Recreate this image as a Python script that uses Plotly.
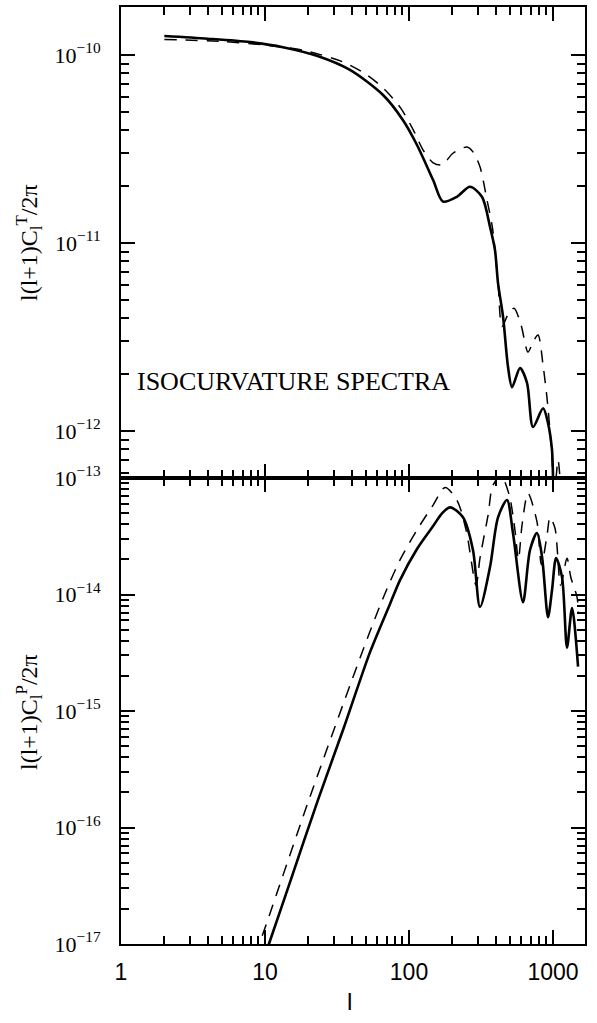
import plotly.graph_objects as go

# ---------------- data ----------------
# Top panel: l(l+1)C_l^T/2pi
l_T_solid = [2, 4, 7.9, 13.3, 22.9, 38.9, 66, 90.6, 113.6, 147, 172, 215, 265, 321, 365, 395,
             415, 450, 487, 519, 590, 660, 726, 853, 923, 984, 1000, 1030]
C_T_solid = [1.26e-10, 1.22e-10, 1.17e-10, 1.10e-10, 9.9e-11, 8.32e-11, 6.12e-11, 4.51e-11, 3.32e-11,
             2.16e-11, 1.66e-11, 1.76e-11, 1.99e-11, 1.76e-11, 1.22e-11, 9.2e-12,
             6.12e-12, 4.04e-12, 2.19e-12, 1.71e-12, 2.16e-12, 1.80e-12, 1.05e-12, 1.32e-12,
             1.10e-12, 7.9e-13, 5.7e-13, 3.0e-13]

l_T_dash = [2, 5, 10, 13.3, 18.4, 34.8, 51, 66, 86.6, 107, 125, 147, 169, 202, 253, 278, 311, 348,
            380, 415, 442, 490, 536, 600, 670, 730, 787, 853, 908, 953, 1000, 1030, 1083, 1130]
C_T_dash = [1.21e-10, 1.18e-10, 1.13e-10, 1.10e-10, 1.06e-10, 9.18e-11, 7.83e-11, 6.67e-11, 5.28e-11,
            4.0e-11, 3.13e-11, 2.67e-11, 2.6e-11, 3.0e-11, 3.24e-11, 3.05e-11, 2.54e-11, 1.69e-11,
            1.2e-11, 6.2e-12, 3.6e-12, 4.2e-12, 4.5e-12, 3.66e-12, 2.63e-12, 3.0e-12, 3.24e-12,
            2.23e-12, 1.5e-12, 1.0e-12, 6.0e-13, 5.0e-13, 7.0e-13, 5.0e-13]

# Bottom panel: l(l+1)C_l^P/2pi
l_P_solid = [10, 10.7, 15, 23.3, 35, 53.6, 73.8, 86.6, 113.6, 147, 170, 193, 237, 278, 311, 365, 415,
             479, 527, 619, 692, 774, 839, 923, 984, 1050, 1155, 1250, 1355, 1492]
C_P_solid = [8.1e-18, 1.02e-17, 3.47e-17, 1.72e-16, 7.0e-16, 3.2e-15, 8.3e-15, 1.33e-14, 2.46e-14,
             3.87e-14, 5.0e-14, 5.6e-14, 4.6e-14, 2.41e-14, 7.8e-15, 1.72e-14, 4.6e-14, 6.47e-14,
             3.37e-14, 8.6e-15, 2.41e-14, 3.37e-14, 2.1e-14, 6.4e-15, 1.09e-14, 2.06e-14,
             1.41e-14, 3.5e-15, 7.66e-15, 2.4e-15]

l_P_dash = [8.5, 9.5, 20.5, 47.9, 66, 86.6, 113.6, 147, 178, 215, 250, 292, 311, 354, 383, 442, 464,
            503, 545, 575, 610, 670, 774, 830, 908, 953, 1032, 1130, 1250, 1330, 1468, 1500]
C_P_dash = [8.0e-18, 1.15e-17, 1.83e-16, 3.34e-15, 9.3e-15, 1.98e-14, 3.58e-14, 5.86e-14, 8.3e-14,
            6.47e-14, 3.5e-14, 1.2e-14, 2.05e-14, 4.8e-14, 8.7e-14, 1.05e-13, 9.2e-14, 6.7e-14,
            3.5e-14, 2.0e-14, 4.0e-14, 7.4e-14, 4.2e-14, 1.8e-14, 3.2e-14, 4.6e-14, 3.7e-14,
            1.2e-14, 2.05e-14, 1.4e-14, 9.5e-15, 7.0e-15]

# tick definitions
x_major = [1, 10, 100, 1000]
x_major_text = ["1", "10", "100", "1000"]
x_minor = [m * d for d in (1, 10, 100) for m in range(2, 10)]

yT_major = [1e-12, 1e-11, 1e-10]
yT_major_text = ["10<sup>−12</sup>", "10<sup>−11</sup>", "10<sup>−10</sup>"]
yT_minor = [m * 1e-13 for m in range(6, 10)] + [m * d for d in (1e-12, 1e-11) for m in range(2, 10)]

yP_major = [1e-17, 1e-16, 1e-15, 1e-14, 1e-13]
yP_major_text = ["10<sup>−17</sup>", "10<sup>−16</sup>", "10<sup>−15</sup>", "10<sup>−14</sup>", "10<sup>−13</sup>"]
yP_minor = [m * d for d in (1e-17, 1e-16, 1e-15, 1e-14) for m in range(2, 10)]

# ---------------- figure ----------------
fig = go.Figure()

solid = dict(color="black", width=2.6, shape="spline", smoothing=0.8)
dashed = dict(color="black", width=1.5, dash="12px,9px", shape="spline", smoothing=0.8)

fig.add_trace(go.Scatter(x=l_T_dash, y=C_T_dash, mode="lines", line=dashed, xaxis="x", yaxis="y"))
fig.add_trace(go.Scatter(x=l_T_solid, y=C_T_solid, mode="lines", line=solid, xaxis="x", yaxis="y"))
fig.add_trace(go.Scatter(x=l_P_dash, y=C_P_dash, mode="lines", line=dashed, xaxis="x2", yaxis="y2"))
fig.add_trace(go.Scatter(x=l_P_solid, y=C_P_solid, mode="lines", line=solid, xaxis="x2", yaxis="y2"))

split = 466 / 937

serif = "Liberation Serif"
sans = "Liberation Sans"


def minor_of(vals):
    return dict(ticks="inside", ticklen=8, tickwidth=1.8, tickcolor="black",
                tickmode="array", tickvals=vals, showgrid=False)


axis_common = dict(
    type="log", showline=True, linecolor="black", linewidth=2, mirror="ticks",
    ticks="inside", ticklen=14, tickwidth=2, tickcolor="black",
    showgrid=False, zeroline=False, automargin=False, tickmode="array",
)

fig.update_layout(
    width=597, height=1023,
    margin=dict(l=121, r=12, t=7, b=79, autoexpand=False),
    plot_bgcolor="white", paper_bgcolor="white",
    showlegend=False,
    xaxis=dict(**axis_common, range=[0, 3.222], domain=[0, 1], anchor="y",
               tickvals=x_major, showticklabels=False, minor=minor_of(x_minor)),
    yaxis=dict(**axis_common, range=[-12.25, -9.745], domain=[split, 1], anchor="x",
               tickvals=yT_major, ticktext=yT_major_text, ticklabelstandoff=14,
               tickfont=dict(family=serif, size=22, color="black"), minor=minor_of(yT_minor)),
    xaxis2=dict(**axis_common, range=[0, 3.222], domain=[0, 1], anchor="y2",
                tickvals=x_major, ticktext=x_major_text, ticklabelstandoff=6,
                tickfont=dict(family=sans, size=23, color="black"), minor=minor_of(x_minor)),
    yaxis2=dict(**axis_common, range=[-17, -13], domain=[0, split], anchor="x2",
                tickvals=yP_major, ticktext=yP_major_text, ticklabelstandoff=14,
                tickfont=dict(family=serif, size=22, color="black"), minor=minor_of(yP_minor)),
)

annotations = [
    dict(text="l(l+1)C<sub>l</sub><sup>T</sup>/2π", xref="paper", yref="paper",
         x=0, xshift=-92, y=(944 - 243) / 937, xanchor="center", yanchor="middle",
         textangle=-90, showarrow=False, font=dict(family=serif, size=24, color="black")),
    dict(text="l(l+1)C<sub>l</sub><sup>P</sup>/2π", xref="paper", yref="paper",
         x=0, xshift=-92, y=(944 - 712) / 937, xanchor="center", yanchor="middle",
         textangle=-90, showarrow=False, font=dict(family=serif, size=24, color="black")),
    dict(text="ISOCURVATURE SPECTRA", xref="paper", yref="paper",
         x=(135 - 121) / 466, y=(944 - 381) / 937, xanchor="left", yanchor="middle",
         showarrow=False, font=dict(family=serif, size=26, color="black")),
    dict(text="l", xref="paper", yref="paper",
         x=(350 - 121) / 466, y=(944 - 1002) / 937, xanchor="center", yanchor="middle",
         showarrow=False, font=dict(family=sans, size=24, color="black")),
]
fig.update_layout(annotations=annotations)

fig.write_html("out.html")
